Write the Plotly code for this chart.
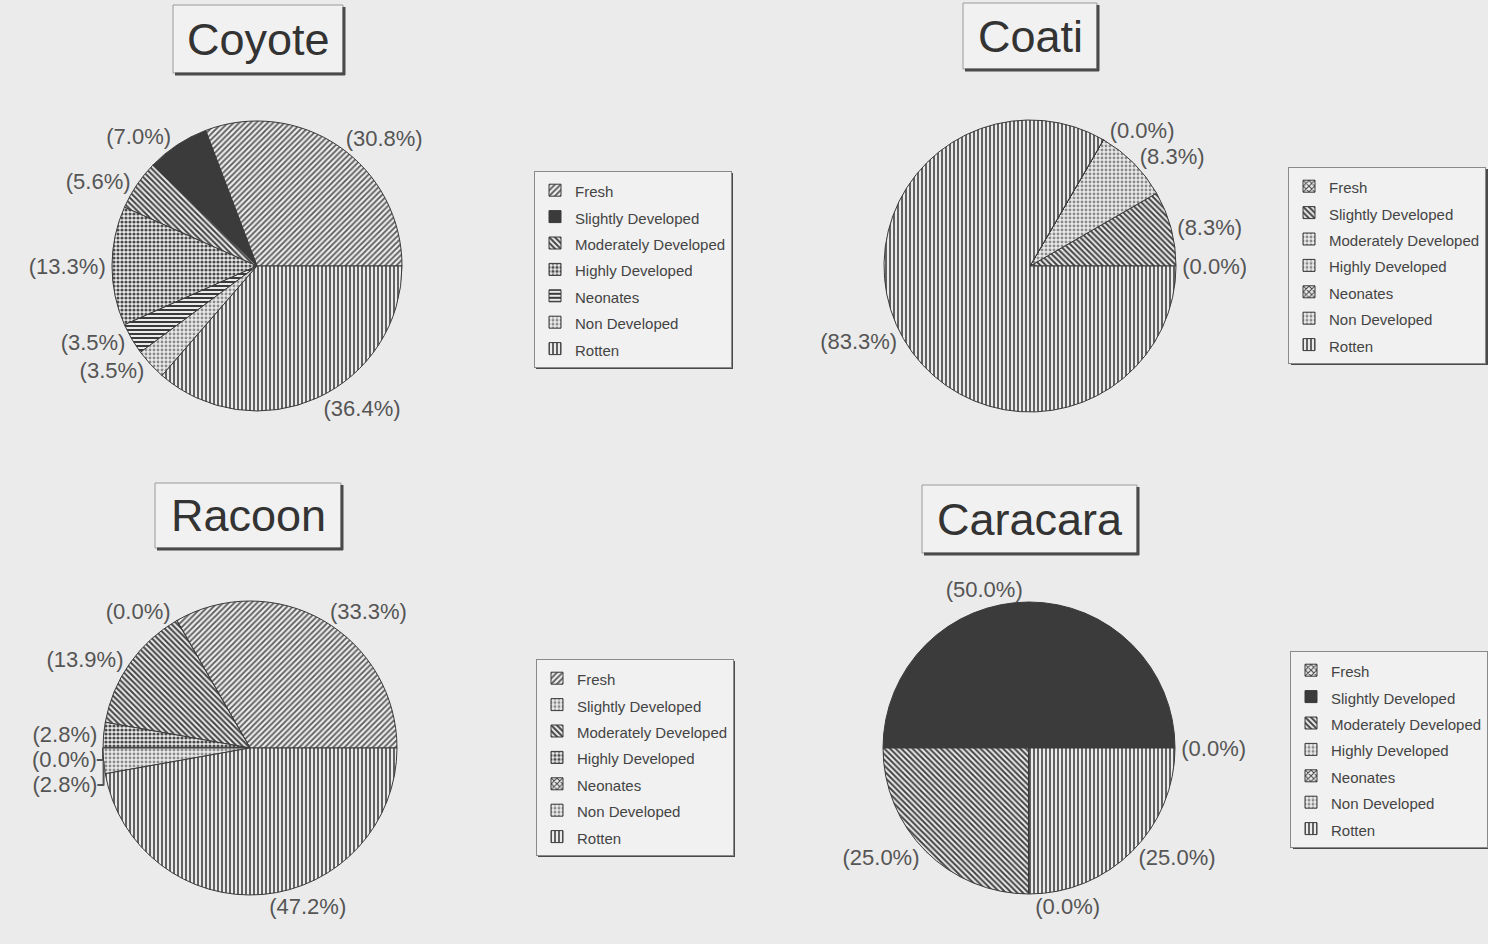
import plotly.graph_objects as go

# ---------------- data ----------------
categories = ["Fresh", "Slightly Developed", "Moderately Developed",
              "Highly Developed", "Neonates", "Non Developed", "Rotten"]

coyote_pct = [30.8, 7.0, 5.6, 13.3, 3.5, 3.5, 36.4]
coati_pct = [0.0, 8.3, 8.3, 0.0, 0.0, 0.0, 83.3]
racoon_pct = [33.3, 0.0, 13.9, 2.8, 0.0, 2.8, 47.2]
caracara_pct = [0.0, 50.0, 25.0, 0.0, 0.0, 0.0, 25.0]

# which slice labels are printed (overlapping zero labels are drawn once)
coyote_show = [True, True, True, True, True, True, True]
coati_show = [True, True, True, True, False, False, True]
racoon_show = [True, True, True, True, True, True, True]
caracara_show = [True, True, True, True, False, False, True]

titles = ["Coyote", "Coati", "Racoon", "Caracara"]

# ---------------- styles ----------------
# (shape, fgcolor, bgcolor, solidity)
ST = {
    "fwd":    ("/", "#5a5a5a", "#c9c9c9", 0.45),
    "dark":   ("", "#333333", "#3b3b3b", 0.3),
    "back":   ("\\", "#444444", "#b0b0b0", 0.5),
    "check":  (".", "#4a4a4a", "#bcbcbc", 0.5),
    "horiz":  ("-", "#3a3a3a", "#a0a0a0", 0.5),
    "light":  (".", "#8a8a8a", "#dedede", 0.4),
    "vert":   ("|", "#626262", "#c2c2c2", 0.5),
    "dcheck": ("x", "#474747", "#b5b5b5", 0.45),
}

styles = {
    "Coyote":   ["fwd", "dark", "back", "check", "horiz", "light", "vert"],
    "Coati":    ["dcheck", "back", "light", "light", "dcheck", "light", "vert"],
    "Racoon":   ["fwd", "light", "back", "check", "dcheck", "light", "vert"],
    "Caracara": ["dcheck", "dark", "back", "light", "dcheck", "light", "vert"],
}

# same legend text colour written four ways -> labels unique per pie
label_color_css = ["color:#444", "color:#444444", "color:rgb(68,68,68)",
                   "color:rgb(68, 68, 68)"]

W, H = 1488, 944
BG = "#ebebeb"
FONT = "Liberation Sans, Arial, sans-serif"

# pie centre (px), radius (px), legend anchor (px, x side), title box (px),
# approximate legend box for its drop shadow (px)
layout_px = {
    "Coyote":   dict(c=(257, 266), r=145, leg=(534, 171, "left"), box=(173, 5, 343, 73),
                     legbox=(534, 171, 731, 367)),
    "Coati":    dict(c=(1030, 266), r=146, leg=(1486, 167, "right"), box=(963, 3, 1097, 69),
                     legbox=(1289, 167, 1486, 363)),
    "Racoon":   dict(c=(250, 748), r=147, leg=(536, 659, "left"), box=(155, 483, 341, 548),
                     legbox=(536, 659, 733, 855)),
    "Caracara": dict(c=(1029, 748), r=146, leg=(1488, 651, "right"), box=(922, 485, 1137, 553),
                     legbox=(1291, 651, 1488, 847)),
}

data_sets = {
    "Coyote": (coyote_pct, coyote_show),
    "Coati": (coati_pct, coati_show),
    "Racoon": (racoon_pct, racoon_show),
    "Caracara": (caracara_pct, caracara_show),
}


def shadow(x0, y0, x1, y1, width=3):
    """dark right/bottom edge lines of a raised box (pixel coords)"""
    return [
        dict(type="line", xref="paper", yref="paper",
             x0=(x1 + 1) / W, x1=(x1 + 1) / W, y0=1 - (y1 + 2) / H, y1=1 - (y0 + 2) / H,
             line=dict(color="#4a4a4a", width=width)),
        dict(type="line", xref="paper", yref="paper",
             x0=(x0 + 2) / W, x1=(x1 + 2) / W, y0=1 - (y1 + 1) / H, y1=1 - (y1 + 1) / H,
             line=dict(color="#4a4a4a", width=width)),
    ]


fig = go.Figure()
legend_names = ["legend", "legend2", "legend3", "legend4"]
shapes = []
annotations = []
legend_layouts = {}

for i, name in enumerate(titles):
    vals, show = data_sets[name]
    L = layout_px[name]
    cx, cy = L["c"]
    r = L["r"]
    sty = [ST[k] for k in styles[name]]
    text = ["(%.1f%%)" % v if s else "" for v, s in zip(vals, show)]
    labels = ['<span style="font-size:15px;%s">%s</span>' % (label_color_css[i], c)
              for c in categories]
    # plotly's counterclockwise mode ends the first slice at `rotation`;
    # shift so the first slice starts at 3 o'clock
    rot = 90 - 360.0 * vals[0] / sum(vals)
    fig.add_trace(go.Pie(
        labels=labels,
        values=vals,
        text=text,
        textinfo="text",
        textposition="outside",
        textfont=dict(family=FONT, size=22, color="#555555"),
        sort=False,
        direction="counterclockwise",
        rotation=rot,
        hoverinfo="percent",
        domain=dict(x=[(cx - r) / W, (cx + r) / W],
                    y=[1 - (cy + r) / H, 1 - (cy - r) / H]),
        marker=dict(
            colors=[s[2] for s in sty],
            line=dict(color="#3a3a3a", width=1),
            pattern=dict(
                shape=[s[0] for s in sty],
                fgcolor=[s[1] for s in sty],
                size=4,
                solidity=[s[3] for s in sty],
                fillmode="replace",
            ),
        ),
        legend=legend_names[i],
        showlegend=True,
        name=name,
    ))
    lx, ly, lside = L["leg"]
    legend_layouts[legend_names[i]] = dict(
        x=lx / W, y=1 - ly / H, xanchor=lside, yanchor="top",
        bgcolor="#f1f1f1", bordercolor="#8a8a8a", borderwidth=1,
        font=dict(family=FONT, size=18, color="#444444"),
        itemwidth=30, tracegroupgap=0,
    )
    # legend drop shadow
    shapes.extend(shadow(*L["legbox"], width=2))
    # title box
    x0, y0, x1, y1 = L["box"]
    shapes.append(dict(type="rect", xref="paper", yref="paper",
                       x0=x0 / W, x1=x1 / W, y0=1 - y1 / H, y1=1 - y0 / H,
                       fillcolor="#f1f1f1", line=dict(color="#9a9a9a", width=1)))
    shapes.extend(shadow(x0, y0, x1, y1, width=3))
    annotations.append(dict(text=name, xref="paper", yref="paper",
                            x=(x0 + x1) / 2 / W, y=1 - (y0 + y1) / 2 / H,
                            xanchor="center", yanchor="middle", showarrow=False,
                            font=dict(family=FONT, size=45, color="#333333")))

fig.update_layout(
    width=W, height=H,
    margin=dict(l=0, r=0, t=0, b=0),
    paper_bgcolor=BG, plot_bgcolor=BG,
    shapes=shapes, annotations=annotations,
    **legend_layouts,
)

fig.write_html("out.html")
